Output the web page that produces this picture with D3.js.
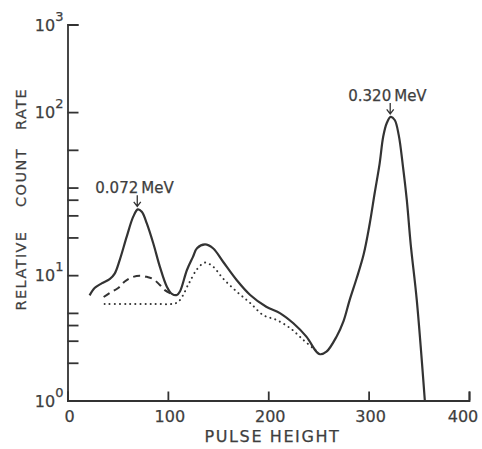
<!DOCTYPE html>
<html>
<head>
<meta charset="utf-8">
<script src="https://cdn.jsdelivr.net/npm/d3@7"></script>
<style>
  body { margin: 0; background: #fff; }
  svg { display: block; }
  text { font-family: "DejaVu Sans", sans-serif; fill: #3e3e3e; stroke: #3e3e3e; stroke-width: 0.25; }
</style>
</head>
<body>
<svg id="chart" width="482" height="449"></svg>
<script>
// ---- data ----
const solidX = [22, 27, 34, 42, 47, 52, 59, 65.5, 70, 74, 79, 85.5, 92, 99, 104, 109, 112, 119, 125, 129, 137, 145, 155, 168.5, 182, 198, 212, 225, 238, 248, 251.5, 258, 268, 275, 281, 288, 295, 301, 306, 311, 314.5, 318, 322, 326, 330, 334, 338, 342, 348, 356];
const solidY = [6.9, 7.9, 8.6, 9.3, 10.3, 13.2, 20.3, 29.3, 33.5, 32.1, 25.9, 17.9, 11.7, 8.1, 7.1, 6.95, 7.4, 11.0, 14.0, 16.4, 17.6, 16.4, 12.8, 9.15, 6.95, 5.6, 4.96, 4.13, 3.23, 2.45, 2.34, 2.45, 3.23, 4.3, 6.3, 9.4, 14.6, 25.5, 45, 78, 127, 163, 183, 173, 131, 76, 40, 17.4, 6.3, 1.0];

const dashedX = [36, 42, 50.5, 57, 64, 72, 79, 85.5, 92, 97, 102, 107];
const dashedY = [6.7, 7.2, 7.9, 8.9, 9.6, 9.9, 9.7, 9.3, 8.35, 7.6, 7.2, 6.95];

const dottedX = [37, 60, 85, 105, 110, 115, 120, 122, 128.5, 137, 145, 155, 168.5, 182, 195, 208, 222, 235, 245, 250];
const dottedY = [5.9, 5.9, 5.9, 5.9, 6.1, 6.9, 8.35, 8.9, 11.0, 12.6, 11.7, 9.4, 7.4, 6.0, 4.8, 4.4, 3.77, 3.04, 2.6, 2.4];

const xTickValues = [0, 100, 200, 300, 400];
const xTickLabels = ["0", "100", "200", "300", "400"];
const yTickValues = [1, 2, 3, 4, 5, 10, 20, 30, 40, 50, 100, 200, 1000];
const yLabelValues = [1, 10, 200, 1000];
const yLabelExponents = ["0", "1", "2", "3"];

const peakLabels = ["0.072", "0.320"];
const peakX = [70, 322];
const peakY = [33.5, 183];

// ---- scales ----
const svg = d3.select("#chart");
const x = d3.scaleLinear().domain([0, 400]).range([67.5, 469]);
const y = d3.scaleLog().domain([1, 1000]).range([400.5, 24.5]);
const ink = "#333";

// axes
const yAxis = d3.axisRight(y).tickValues(yTickValues).tickSize(11).tickFormat("");
const gy = svg.append("g").attr("transform", `translate(${x(0)},0)`).call(yAxis);
const xAxis = d3.axisTop(x).tickValues(xTickValues).tickSize(9).tickFormat("");
const gx = svg.append("g").attr("transform", `translate(0,${y(1)})`).call(xAxis);
[gx, gy].forEach(g => {
  g.select(".domain").attr("stroke", ink).attr("stroke-width", 1.8);
  g.selectAll(".tick line").attr("stroke", ink).attr("stroke-width", 1.8);
});

// x tick labels
svg.append("g").selectAll("text").data(xTickValues).join("text")
  .attr("x", d => Math.min(x(d) + 2, 463))
  .attr("y", 421.5)
  .attr("text-anchor", "middle")
  .attr("font-size", 16)
  .text((d, i) => xTickLabels[i]);

// y tick labels (10^n)
const yl = svg.append("g").selectAll("text").data(yLabelValues).join("text")
  .attr("x", 63.5)
  .attr("y", d => y(d) + 6)
  .attr("text-anchor", "end")
  .attr("font-size", 16);
yl.append("tspan").text("10");
yl.append("tspan").attr("dy", -10).attr("font-size", 13).text((d, i) => yLabelExponents[i]);

// axis titles
svg.append("text")
  .attr("x", 272.5).attr("y", 441.5)
  .attr("text-anchor", "middle")
  .attr("font-size", 16)
  .attr("letter-spacing", 1.6)
  .text("PULSE HEIGHT");

const yWords = ["RELATIVE", "COUNT", "RATE"];
const yWordCenters = [270.5, 177.5, 109];
svg.append("g").selectAll("text").data(yWords).join("text")
  .attr("transform", (d, i) => `translate(25.5,${yWordCenters[i]}) rotate(-90)`)
  .attr("text-anchor", "middle")
  .attr("font-size", 14.5)
  .attr("letter-spacing", 1.4)
  .text(d => d);

// curves
const line = d3.line().curve(d3.curveCatmullRom.alpha(0.5));
const mk = (xs, ys) => xs.map((v, i) => [x(v), y(ys[i])]);

svg.append("path").attr("d", line(mk(dottedX, dottedY)))
  .attr("fill", "none").attr("stroke", ink).attr("stroke-width", 2)
  .attr("stroke-linecap", "round").attr("stroke-dasharray", "0.1,5");
svg.append("path").attr("d", line(mk(dashedX, dashedY)))
  .attr("fill", "none").attr("stroke", ink).attr("stroke-width", 2)
  .attr("stroke-dasharray", "7,5");
svg.append("path").attr("d", line(mk(solidX, solidY)))
  .attr("fill", "none").attr("stroke", ink).attr("stroke-width", 2.2)
  .attr("stroke-linejoin", "round");

// peak annotations
peakLabels.forEach((lab, i) => {
  const px = x(peakX[i]) - 0.5, py = y(peakY[i]);
  const top = py - 14;
  svg.append("path")
    .attr("d", `M${px},${top} L${px},${py - 3} M${px - 3.5},${py - 7.5} L${px},${py - 3} L${px + 3.5},${py - 7.5}`)
    .attr("fill", "none").attr("stroke", ink).attr("stroke-width", 1.3);
  const t = svg.append("text").attr("y", top - 2).attr("font-size", 15);
  t.append("tspan").attr("x", px + 1).attr("text-anchor", "end").text(lab);
  svg.append("text").attr("x", px + 4).attr("y", top - 2).attr("font-size", 15).text("MeV");
});
</script>
</body>
</html>
